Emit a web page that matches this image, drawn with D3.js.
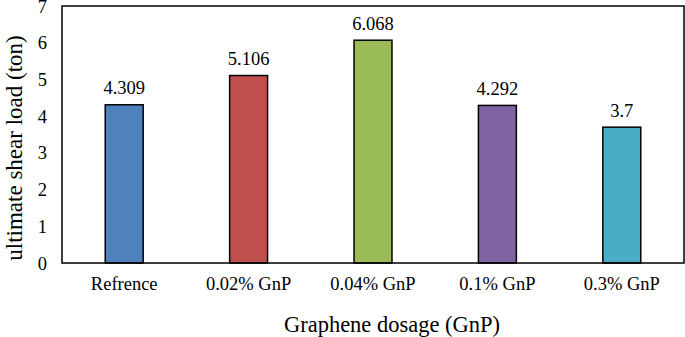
<!DOCTYPE html>
<html><head><meta charset="utf-8">
<script src="https://cdn.jsdelivr.net/npm/d3@7"></script>
<style>body{margin:0;background:#fff}svg text{font-family:"Liberation Serif","Times New Roman",serif;fill:#000}</style>
</head><body>
<svg id="c" width="685" height="337"></svg>
<script>
const categories = ["Refrence","0.02% GnP","0.04% GnP","0.1% GnP","0.3% GnP"];
const values = [4.309,5.106,6.068,4.292,3.7];
const valueLabels = ["4.309","5.106","6.068","4.292","3.7"];
const colors = ["#4F81BD","#C0504D","#9BBB59","#8064A2","#4BACC6"];
const yTicks = [0,1,2,3,4,5,6,7];

const FF = "Liberation Serif";
const svg = d3.select("#c");
const m = {l:62, r:1, t:6, b:74};
const W = 685, H = 337;
const x = d3.scaleBand().domain(categories).range([m.l, W-m.r]).paddingInner(0.695).paddingOuter(0.3475);
const y = d3.scaleLinear().domain([0,7]).range([H-m.b, m.t]);

svg.selectAll("rect.bar").data(values).enter().append("rect")
  .attr("x",(d,i)=>x(categories[i])).attr("width",x.bandwidth())
  .attr("y",d=>y(d)).attr("height",d=>y(0)-y(d))
  .attr("fill",(d,i)=>colors[i]).attr("stroke","#000").attr("stroke-width",1.5);

svg.selectAll("text.val").data(values).enter().append("text")
  .attr("x",(d,i)=>x(categories[i])+x.bandwidth()/2).attr("y",d=>y(d)-10.5)
  .attr("text-anchor","middle").attr("font-family",FF).attr("font-size",18.5).text((d,i)=>valueLabels[i]);

const ya = svg.append("g").attr("transform",`translate(${m.l},0)`)
  .call(d3.axisLeft(y).tickValues(yTicks).tickSize(0).tickPadding(15).tickFormat(d3.format("d")));
ya.select(".domain").remove();
ya.attr("font-family",FF).attr("font-size",18.5);
ya.selectAll("text").attr("dy","0.33em");

const xa = svg.append("g").attr("transform",`translate(0,${y(0)})`)
  .call(d3.axisBottom(x).tickSize(0).tickPadding(14));
xa.select(".domain").remove();
xa.attr("font-family",FF).attr("font-size",18.5);
xa.selectAll("text").attr("dy","0.71em");

svg.append("rect").attr("x",m.l).attr("y",m.t).attr("width",W-m.r-m.l).attr("height",y(0)-m.t)
  .attr("fill","none").attr("stroke","#000").attr("stroke-width",1.5);

svg.append("text").attr("x",392).attr("y",332).attr("text-anchor","middle")
  .attr("font-family",FF).attr("font-size",22.5).text("Graphene dosage (GnP)");
svg.append("text").attr("transform",`translate(22,148) rotate(-90)`).attr("text-anchor","middle")
  .attr("font-family",FF).attr("font-size",23).text("ultimate shear load (ton)");
</script>
</body></html>
